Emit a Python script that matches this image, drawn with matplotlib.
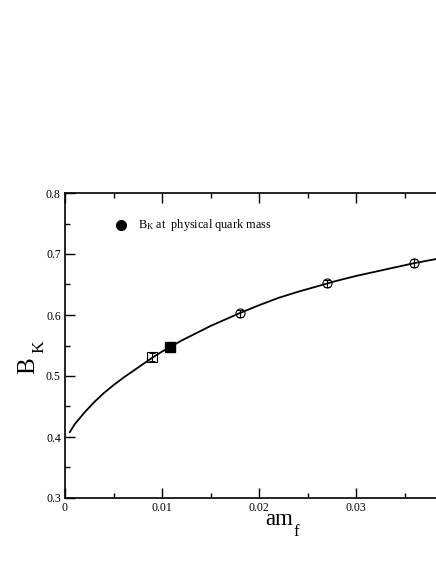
import matplotlib
matplotlib.use("Agg")
import matplotlib.pyplot as plt
from matplotlib.ticker import MultipleLocator, FixedLocator

plt.rcParams['font.family'] = ['Liberation Serif', 'DejaVu Serif']
plt.rcParams['mathtext.fontset'] = 'custom'
plt.rcParams['mathtext.rm'] = 'Liberation Serif'
plt.rcParams['mathtext.it'] = 'Liberation Serif:italic'

# data
sq_x = [0.009]
sq_y = [0.531]
sq_err = [0.006]
circ_x = [0.018, 0.027, 0.036]
circ_y = [0.603, 0.652, 0.685]
circ_err = [0.006, 0.006, 0.006]
phys_x = [0.0108]
phys_y = [0.5475]
fit_x = [0.0005, 0.001, 0.002, 0.003, 0.004, 0.005, 0.006, 0.007, 0.008,
         0.009, 0.010, 0.011, 0.012, 0.013, 0.014, 0.015, 0.016, 0.017,
         0.018, 0.020, 0.022, 0.024, 0.026, 0.028, 0.030, 0.032, 0.034,
         0.036, 0.038, 0.040]
fit_y = [0.408, 0.421, 0.440, 0.457, 0.472, 0.485, 0.497, 0.508, 0.519,
         0.530, 0.540, 0.549, 0.558, 0.566, 0.574, 0.582, 0.589, 0.596,
         0.603, 0.616, 0.628, 0.638, 0.647, 0.656, 0.664, 0.671, 0.678,
         0.685, 0.691, 0.697]
legend_x = [0.00577]
legend_y = [0.7475]
legend_text = r'$\mathrm{B_K}$ at  physical quark mass'
xticks = [0, 0.01, 0.02, 0.03, 0.04]
xticklabels = ['0', '0.01', '0.02', '0.03', '']
yticks = [0.3, 0.4, 0.5, 0.6, 0.7, 0.8]
yticklabels = ['0.3', '0.4', '0.5', '0.6', '0.7', '0.8']

W, H = 436, 564
fig = plt.figure(figsize=(W / 100, H / 100), dpi=100)
ax = fig.add_axes([65/W, 66/H, 388/W, 305/H])

ax.plot(fit_x, fit_y, color='black', lw=1.3, zorder=2)
ax.errorbar(sq_x, sq_y, yerr=sq_err, fmt='s', mfc='none', mec='black',
            ecolor='black', ms=6.5, mew=0.8, elinewidth=0.8, capsize=2.5, zorder=3)
ax.errorbar(circ_x, circ_y, yerr=circ_err, fmt='o', mfc='none', mec='black',
            ecolor='black', ms=6.5, mew=0.8, elinewidth=0.8, capsize=2.5, zorder=3)
ax.plot(phys_x, phys_y, 's', color='black', ms=6.5, zorder=4)
ax.plot(legend_x, legend_y, 'o', color='black', ms=7)
ax.text(0.0075, legend_y[0], legend_text, fontsize=8.8, va='center', ha='left')

ax.set_xlim(0, 0.04)
ax.set_ylim(0.3, 0.8)
ax.xaxis.set_major_locator(FixedLocator(xticks))
ax.set_xticklabels(xticklabels)
ax.yaxis.set_major_locator(FixedLocator(yticks))
ax.set_yticklabels(yticklabels)
ax.xaxis.set_minor_locator(MultipleLocator(0.005))
ax.yaxis.set_minor_locator(MultipleLocator(0.05))
ax.tick_params(which='both', direction='in', top=True, right=True,
               labelsize=8.5, width=1, pad=3)
ax.tick_params(which='major', length=7)
ax.tick_params(which='minor', length=3.5)
for s in ax.spines.values():
    s.set_linewidth(1.2)

# x label "am_f"
fig.text(265/W, 1 - 525/H, 'am', fontsize=16.5, ha='left', va='baseline')
fig.text(293/W, 1 - 536/H, 'f', fontsize=12, ha='left', va='baseline')
# y label "B_K" (rotated)
fig.text(34/W, 1 - 374/H, 'B', fontsize=18, rotation=90, rotation_mode='anchor',
         ha='left', va='baseline')
fig.text(43/W, 1 - 353/H, 'K', fontsize=12.5, rotation=90, rotation_mode='anchor',
         ha='left', va='baseline')

fig.savefig('out.png', dpi=100)
